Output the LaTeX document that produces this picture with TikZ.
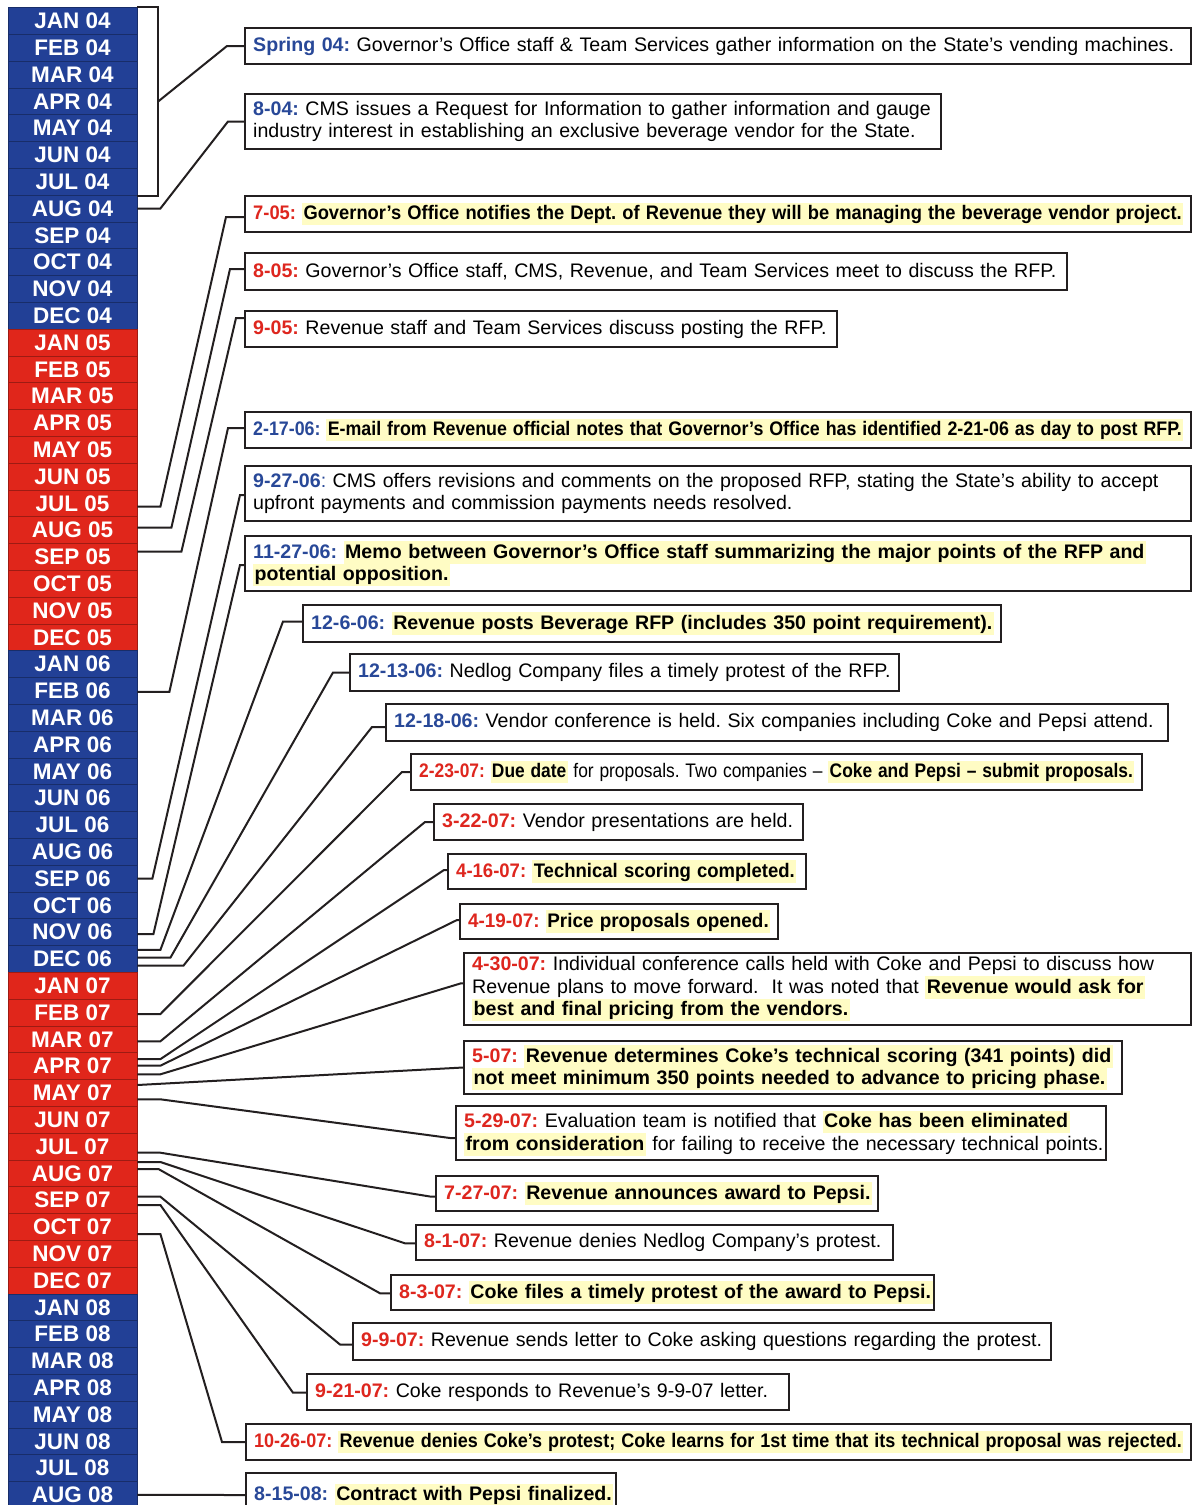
\documentclass[tikz,border=0pt]{standalone}
\usepackage{fontspec}
\setmainfont{Liberation Sans}
\usepackage{graphicx}
\usetikzlibrary{calc}
\frenchspacing

\definecolor{monblue}{RGB}{34,64,150}
\definecolor{monred}{RGB}{224,38,27}
\definecolor{datered}{RGB}{222,38,30}
\definecolor{dateblue}{RGB}{40,72,152}
\definecolor{hlyellow}{RGB}{255,252,196}
\definecolor{boxline}{RGB}{35,31,32}

\newcommand{\rd}[1]{\textcolor{datered}{\textbf{#1}}}
\newcommand{\bl}[1]{\textcolor{dateblue}{\textbf{#1}}}
\newcommand{\hl}[1]{{\setlength{\fboxsep}{0pt}\colorbox{hlyellow}{\rule[-5.5pt]{0pt}{22.5pt}\hspace{1.5pt}\textbf{#1}\hspace{1.5pt}}}}
\newcommand{\fitto}[2]{\resizebox{#1}{\height}{#2}}

\begin{document}
\begin{tikzpicture}[x=1pt, y=-1pt,
	month/.style={draw=#1!70!black, fill=#1, line width=0.8pt, minimum width=129pt, minimum height=26.8pt, inner sep=0pt, text=white, font=\fontsize{22.5}{22.5}\selectfont\bfseries},
	ev/.style={draw=boxline, line width=2.4pt, fill=white, anchor=west, inner xsep=8pt, inner ysep=1pt, align=left, font=\fontsize{19.6}{22.5}\selectfont},
	conn/.style={draw=boxline, line width=2pt}]

	\fill[white] (0,0) rectangle (1192,1505);
	\useasboundingbox (0,0) rectangle (1192,1505);

	% month column
	\foreach \yr/\col [count=\yi from 0] in {04/monblue,05/monred,06/monblue,07/monred,08/monblue}
		\foreach \mon [count=\mi from 0] in {JAN,FEB,MAR,APR,MAY,JUN,JUL,AUG,SEP,OCT,NOV,DEC} {
			\pgfmathtruncatemacro{\idx}{12*\yi+\mi}
			\ifnum\idx<56
				\node[month=\col] (m\idx) at (72.5,{7.5+26.8*(\idx+0.5)}) {\mon\ \yr};
			\fi
		}

	% events
	\node[ev, text width=930pt, minimum height=36pt] (e0404) at (244,46)
		{\mbox{\bl{Spring 04:} Governor’s Office staff \& Team Services gather information on the State’s vending machines.}};
	\node[ev, text width=680pt, minimum height=55pt] (e0804) at (244,121.5)
		{\mbox{\bl{8-04:} CMS issues a Request for Information to gather information and gauge}\\
		 \mbox{industry interest in establishing an exclusive beverage vendor for the State.}};
	\node[ev, text width=930pt, minimum height=36pt] (e0705) at (244,214)
		{\fitto{930pt}{\rd{7-05:} \hl{Governor’s Office notifies the Dept. of Revenue they will be managing the beverage vendor project.}}};
	\node[ev, text width=806pt, minimum height=37pt] (e0805) at (244,271.5)
		{\mbox{\rd{8-05:} Governor’s Office staff, CMS, Revenue, and Team Services meet to discuss the RFP.}};
	\node[ev, text width=576pt, minimum height=36pt] (e0905) at (244,329)
		{\mbox{\rd{9-05:} Revenue staff and Team Services discuss posting the RFP.}};
	\node[ev, text width=930pt, minimum height=36pt] (e021706) at (244,430)
		{\fitto{930pt}{\bl{2-17-06:} \hl{E-mail from Revenue official notes that Governor’s Office has identified 2-21-06 as day to post RFP.}}};
	\node[ev, text width=930pt, minimum height=55pt] (e092706) at (244,493.5)
		{\mbox{\bl{9-27-06}\textcolor{dateblue}{:} CMS offers revisions and comments on the proposed RFP, stating the State’s ability to accept}\\
		 \mbox{upfront payments and commission payments needs resolved.}};
	\node[ev, text width=930pt, minimum height=55pt] (e112706) at (244,563.5)
		{\mbox{\bl{11-27-06:} \hl{Memo between Governor’s Office staff summarizing the major points of the RFP and}}\\
		 \mbox{\hl{potential opposition.}}};
	\node[ev, text width=682pt, minimum height=37pt] (e12606) at (302,623.5)
		{\mbox{\bl{12-6-06:} \hl{Revenue posts Beverage RFP (includes 350 point requirement).}}};
	\node[ev, text width=533pt, minimum height=37pt] (e121306) at (349,672.5)
		{\mbox{\bl{12-13-06:} Nedlog Company files a timely protest of the RFP.}};
	\node[ev, text width=766pt, minimum height=37pt] (e121806) at (385,722.5)
		{\mbox{\bl{12-18-06:} Vendor conference is held. Six companies including Coke and Pepsi attend.}};
	\node[ev, text width=715pt, minimum height=36pt] (e022307) at (410,772)
		{\fitto{715pt}{\rd{2-23-07:} \hl{Due date} for proposals. Two companies – \hl{Coke and Pepsi – submit proposals.}}};
	\node[ev, text width=353pt, minimum height=36pt] (e032207) at (433,822)
		{\mbox{\rd{3-22-07:} Vendor presentations are held.}};
	\node[ev, text width=342pt, minimum height=35pt] (e041607) at (447,871.5)
		{\fitto{340pt}{\rd{4-16-07:} \hl{Technical scoring completed.}}};
	\node[ev, text width=302pt, minimum height=35pt] (e041907) at (459,921.5)
		{\fitto{302pt}{\rd{4-19-07:} \hl{Price proposals opened.}}};
	\node[ev, text width=711pt, minimum height=72pt] (e043007) at (463,989)
		{\mbox{\rd{4-30-07:} Individual conference calls held with Coke and Pepsi to discuss how}\\
		 \mbox{Revenue plans to move forward.\ \ It was noted that \hl{Revenue would ask for}}\\
		 \mbox{\hl{best and final pricing from the vendors.}}};
	\node[ev, text width=642pt, minimum height=53pt] (e0507) at (463,1067.5)
		{\mbox{\rd{5-07:} \hl{Revenue determines Coke’s technical scoring (341 points) did}}\\
		 \mbox{\hl{not meet minimum 350 points needed to advance to pricing phase.}}};
	\node[ev, text width=634pt, minimum height=54pt] (e052907) at (455,1133)
		{\mbox{\rd{5-29-07:} Evaluation team is notified that \hl{Coke has been eliminated}}\\
		 \mbox{\hl{from consideration} for failing to receive the necessary technical points.}};
	\node[ev, text width=426pt, minimum height=35pt] (e072707) at (435,1193.5)
		{\mbox{\rd{7-27-07:} \hl{Revenue announces award to Pepsi.}}};
	\node[ev, text width=461pt, minimum height=35pt] (e080107) at (415,1242.5)
		{\mbox{\rd{8-1-07:} Revenue denies Nedlog Company’s protest.}};
	\node[ev, text width=527pt, minimum height=35pt] (e080307) at (390,1292.5)
		{\mbox{\rd{8-3-07:} \hl{Coke files a timely protest of the award to Pepsi.}}};
	\node[ev, text width=682pt, minimum height=37pt] (e090907) at (352,1341.5)
		{\mbox{\rd{9-9-07:} Revenue sends letter to Coke asking questions regarding the protest.}};
	\node[ev, text width=466pt, minimum height=36pt] (e092107) at (306,1392)
		{\mbox{\rd{9-21-07:} Coke responds to Revenue’s 9-9-07 letter.}};
	\node[ev, text width=929pt, minimum height=36pt] (e102607) at (245,1442)
		{\fitto{929pt}{\rd{10-26-07:} \hl{Revenue denies Coke’s protest; Coke learns for 1st time that its technical proposal was rejected.}}};
	\node[ev, text width=354pt, minimum height=44pt] (e081508) at (245,1495)
		{\mbox{\bl{8-15-08:} \hl{Contract with Pepsi finalized.}}};

	% connectors
	\draw[conn] (m0.north east) -| coordinate[pos=0.75] (brmid) ($(m6.south east)+(21,0)$) -- (m6.south east);
	\draw[conn] (brmid) -- ($(e0404.west)+(-17,0)$) -- (e0404.west);
	\draw[conn] (m7.east) -- ++(23,0) -- ($(e0804.west)+(-16,0)$) -- (e0804.west);
	\draw[conn] ($(m18.east)+(0,3.4)$) -- ++(23,0) -- ($(e0705.west)+(-18,3)$) -- ($(e0705.west)+(0,3)$);
	\draw[conn] ($(m19.east)+(0,-2.4)$) -- ++(34,0) -- ($(e0805.west)+(-14,-2.5)$) -- ($(e0805.west)+(0,-2.5)$);
	\draw[conn] ($(m20.east)+(0,-5.2)$) -- ++(44,0) -- ($(e0905.west)+(-8,-11)$) -- ($(e0905.west)+(0,-11)$);
	\draw[conn] ($(m25.east)+(0,1)$) -- ++(32,0) -- ($(e021706.west)+(-16,-2)$) -- ($(e021706.west)+(0,-2)$);
	\draw[conn] (m32.east) -- ++(15,0) -- ($(e092706.west)+(-4,1.5)$) -- ($(e092706.west)+(0,1.5)$);
	\draw[conn] ($(m34.east)+(0,2)$) -- ++(16,0) -- ($(e112706.west)+(-4,1.5)$) -- ($(e112706.west)+(0,1.5)$);
	\draw[conn] ($(m35.east)+(0,-9)$) -- ++(23,0) -- ($(e12606.west)+(-19,-2)$) -- ($(e12606.west)+(0,-2)$);
	\draw[conn] ($(m35.east)+(0,-1.2)$) -- ++(33,0) -- ($(e121306.west)+(-16,0)$) -- (e121306.west);
	\draw[conn] ($(m35.east)+(0,6.8)$) -- ++(46,0) -- ($(e121806.west)+(-13,4.5)$) -- ($(e121806.west)+(0,4.5)$);
	\draw[conn] ($(m37.east)+(0,1.5)$) -- ++(23,0) -- ($(e022307.west)+(-8,0)$) -- (e022307.west);
	\draw[conn] ($(m38.east)+(0,2)$) -- ++(23,0) -- ($(e032207.west)+(-8,0)$) -- (e032207.west);
	\draw[conn] ($(m39.east)+(0,-7)$) -- ++(23,0) -- ($(e041607.west)+(-3,-1.5)$) -- ($(e041607.west)+(0,-1.5)$);
	\draw[conn] ($(m39.east)+(0,-0.4)$) -- ++(23,0) -- ($(e041907.west)+(-2,-1.5)$) -- ($(e041907.west)+(0,-1.5)$);
	\draw[conn] ($(m39.east)+(0,8.2)$) -- ++(23,0) -- ($(e043007.west)+(-2,-5.7)$) -- ($(e043007.west)+(0,-5.7)$);
	\draw[conn] ($(m40.east)+(0,-7.9)$) -- (e0507.west);
	\draw[conn] ($(m40.east)+(0,6.4)$) -- ++(23,0) -- ($(e052907.west)+(-5,5)$) -- ($(e052907.west)+(0,5)$);
	\draw[conn] ($(m42.east)+(0,6.2)$) -- ++(23,0) -- ($(e072707.west)+(-5,3)$) -- ($(e072707.west)+(0,3)$);
	\draw[conn] ($(m43.east)+(0,-11.3)$) -- ++(23,0) -- ($(e080107.west)+(-10,0.8)$) -- ($(e080107.west)+(0,0.8)$);
	\draw[conn] ($(m43.east)+(0,-4.3)$) -- ++(21,0) -- ($(e080307.west)+(-10,0.8)$) -- ($(e080307.west)+(0,0.8)$);
	\draw[conn] ($(m44.east)+(0,-3.4)$) -- ++(23,0) -- ($(e090907.west)+(-12,3)$) -- ($(e090907.west)+(0,3)$);
	\draw[conn] ($(m44.east)+(0,4.9)$) -- ++(23,0) -- ($(e092107.west)+(-13,0.7)$) -- ($(e092107.west)+(0,0.7)$);
	\draw[conn] ($(m45.east)+(0,7.1)$) -- ++(23,0) -- ($(e102607.west)+(-23,0)$) -- (e102607.west);
	\draw[conn] (m55.east) -- (e081508.west);
\end{tikzpicture}
\end{document}
